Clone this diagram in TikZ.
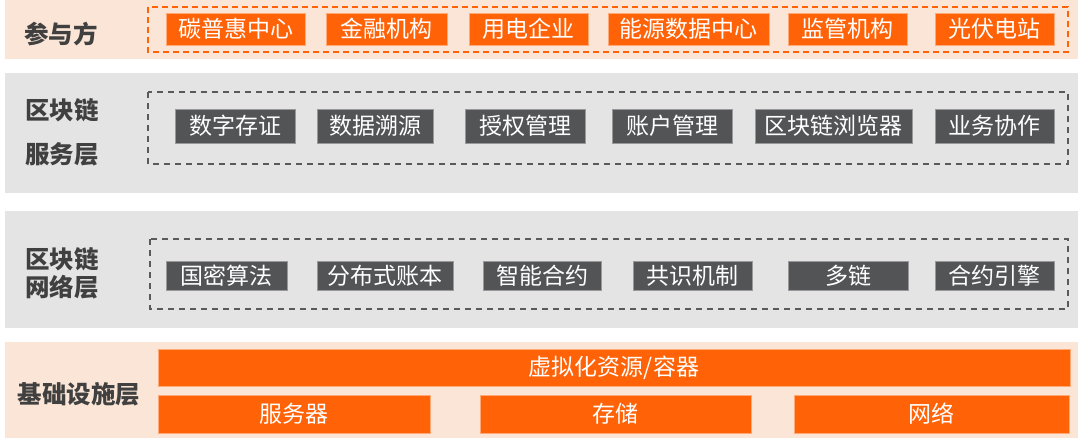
\documentclass[tikz,border=0pt]{standalone}
\usepackage{fontspec}
\usepackage{xcolor}
\usepackage{tikz}
\newfontfamily\cjk{Noto Sans CJK SC}
\usetikzlibrary{positioning, backgrounds}

\definecolor{orng}{HTML}{FF6207}
\definecolor{peach}{HTML}{FBE5D6}
\definecolor{bandgray}{HTML}{E4E4E4}
\definecolor{boxgray}{HTML}{535456}
\definecolor{tagtext}{HTML}{404040}
\definecolor{dashgray}{HTML}{5A5A5A}

\begin{document}
\begin{tikzpicture}[
    x=1pt, y=-1pt,
    tag/.style={font=\cjk\bfseries\fontsize{24.5}{28}\selectfont, text=tagtext, align=center, inner sep=0pt},
    obox/.style={fill=orng, draw=orng!55!white, line width=0.6pt, text=white, font=\cjk\fontsize{23}{26}\selectfont, inner sep=0pt, minimum height=32pt},
    gbox/.style={fill=boxgray, draw=boxgray!60!white, line width=0.6pt, text=white, font=\cjk\fontsize{23}{26}\selectfont, inner sep=0pt},
    oframe/.style={draw=orng, line width=1.4pt, dash pattern=on 6pt off 4pt},
    gframe/.style={draw=dashgray, line width=1.3pt, dash pattern=on 6pt off 5pt}
]
\useasboundingbox (0,0) rectangle (1080,440);

% layer bands
\fill[peach] (5,0) rectangle (1078,59);
\fill[bandgray] (5,73) rectangle (1078,193);
\fill[bandgray] (5,211) rectangle (1078,328);
\fill[peach] (5,342) rectangle (1078,438);

% participants
\node[tag] (partTag) at (61,34) {参与方};
\draw[oframe] (148,7) rectangle (1068,52);
\node[obox, minimum width=139pt] (carbon) at (235.5,29) {碳普惠中心};
\node[obox, minimum width=121pt] (finance) at (386.5,29) {金融机构};
\node[obox, minimum width=119pt] (consumer) at (528.5,29) {用电企业};
\node[obox, minimum width=161pt] (energyData) at (688.5,29) {能源数据中心};
\node[obox, minimum width=119pt] (regulator) at (847.5,29) {监管机构};
\node[obox, minimum width=119pt] (solar) at (994.5,29) {光伏电站};

% blockchain service layer
\node[tag] (svcTag) at (62,132) {区块链\\[16pt]服务层};
\draw[gframe] (148,92) rectangle (1068,164);
\node[gbox, minimum width=120pt, minimum height=34pt] (evidence) at (235,126) {数字存证};
\node[gbox, minimum width=116pt, minimum height=34pt] (trace) at (375,126) {数据溯源};
\node[gbox, minimum width=120pt, minimum height=34pt] (auth) at (525,126) {授权管理};
\node[gbox, minimum width=120pt, minimum height=34pt] (account) at (672,126) {账户管理};
\node[gbox, minimum width=157pt, minimum height=34pt] (explorer) at (833.5,126) {区块链浏览器};
\node[gbox, minimum width=119pt, minimum height=34pt] (collab) at (994.5,126) {业务协作};

% blockchain network layer
\node[tag] (netTag) at (62,273.5) {区块链\\[0pt]网络层};
\draw[gframe] (150,239) rectangle (1068,309);
\node[gbox, minimum width=121pt, minimum height=29pt] (crypto) at (226.5,275.5) {国密算法};
\node[gbox, minimum width=136pt, minimum height=29pt] (ledger) at (385,275.5) {分布式账本};
\node[gbox, minimum width=118pt, minimum height=29pt] (contract) at (542,275.5) {智能合约};
\node[gbox, minimum width=119pt, minimum height=29pt] (consensus) at (692.5,275.5) {共识机制};
\node[gbox, minimum width=120pt, minimum height=29pt] (multichain) at (848,275.5) {多链};
\node[gbox, minimum width=119pt, minimum height=29pt] (engine) at (994.5,275.5) {合约引擎};

% infrastructure layer
\node[tag] (infraTag) at (79,394) {基础设施层};
\node[obox, minimum width=912pt, minimum height=37pt] (virtual) at (614,367.5) {虚拟化资源/容器};
\node[obox, minimum width=272pt, minimum height=38pt] (server) at (294,414) {服务器};
\node[obox, minimum width=271pt, minimum height=38pt] (storage) at (615.5,414) {存储};
\node[obox, minimum width=275pt, minimum height=38pt] (network) at (931.5,414) {网络};
\end{tikzpicture}
\end{document}
